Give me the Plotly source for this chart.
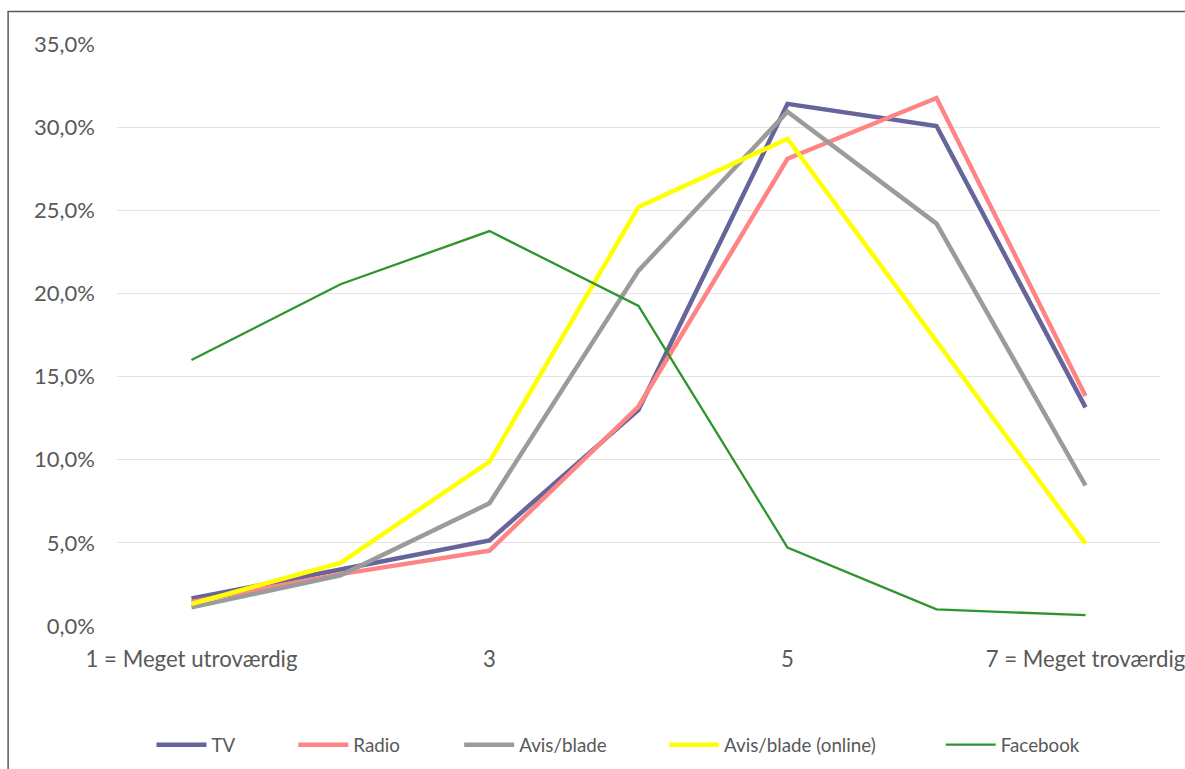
import plotly.graph_objects as go

# ---- data ----
categories = [1, 2, 3, 4, 5, 6, 7]
tick_vals = [1, 3, 5, 7]
tick_text = ["1 = Meget utroværdig", "3", "5", "7 = Meget troværdig"]

tv = [1.65, 3.40, 5.15, 13.0, 31.4, 30.07, 13.15]
radio = [1.45, 3.12, 4.53, 13.2, 28.1, 31.75, 13.83]
avis = [1.12, 3.05, 7.38, 21.37, 30.93, 24.2, 8.45]
avis_online = [1.33, 3.80, 9.88, 25.2, 29.3, 17.15, 4.95]
facebook = [16.0, 20.55, 23.75, 19.25, 4.72, 1.0, 0.65]

series_names = ["TV", "Radio", "Avis/blade", "Avis/blade (online)", "Facebook"]
series_values = [tv, radio, avis, avis_online, facebook]
series_colors = ["#65659B", "#FF8585", "#9B9B9B", "#FFFF00", "#2E952E"]
series_widths = [4.5, 4.5, 4.5, 4.5, 2.3]

# ---- layout geometry (pixels) ----
W, H = 1185, 769
plot_left, plot_right = 116.5, 1160.5
plot_top, plot_bottom = 44, 626
pw = plot_right - plot_left
ph = plot_bottom - plot_top

def px_to_paper_x(px):
    return (px - plot_left) / pw

def px_to_paper_y(py):
    return (plot_bottom - py) / ph

legend_starts = [151, 293, 459, 664, 941]
legend_y_px = 745

fig = go.Figure()
for i, (name, vals, col, lw) in enumerate(zip(series_names, series_values, series_colors, series_widths)):
    lname = "legend" if i == 0 else f"legend{i+1}"
    fig.add_trace(go.Scatter(
        x=categories, y=[v / 100 for v in vals], mode="lines", name=name,
        line=dict(color=col, width=lw), legend=lname,
    ))

font_family = "Lato, 'Open Sans', sans-serif"
legend_font = dict(family=font_family, size=18.8, color="#595959")

layout_legends = {}
for i in range(len(series_names)):
    lname = "legend" if i == 0 else f"legend{i+1}"
    layout_legends[lname] = dict(
        x=px_to_paper_x(legend_starts[i]), y=px_to_paper_y(legend_y_px),
        xanchor="left", yanchor="middle", orientation="h",
        font=legend_font, itemwidth=50, bgcolor="rgba(0,0,0,0)",
    )

fig.update_layout(
    width=W, height=H,
    margin=dict(l=plot_left, r=W - plot_right, t=plot_top, b=H - plot_bottom, pad=0,
                autoexpand=False),
    paper_bgcolor="white", plot_bgcolor="white",
    separators=",.",
    showlegend=True,
    **layout_legends,
    xaxis=dict(
        range=[0.5, 7.5], tickmode="array", tickvals=tick_vals, ticktext=tick_text,
        showgrid=False, zeroline=False, showline=False, ticks="",
        tickfont=dict(family=font_family, size=22.2, color="#595959"),
        ticklabelstandoff=18, automargin=False, ticklabeloverflow="allow",
    ),
    yaxis=dict(
        range=[0, 0.35], tickmode="array",
        tickvals=[0, 0.05, 0.10, 0.15, 0.20, 0.25, 0.30, 0.35],
        tickformat=".1%", showgrid=True, gridcolor="#E3E3E3", gridwidth=1,
        zeroline=False, showline=False, ticks="",
        tickfont=dict(family=font_family, size=22, color="#595959"),
        ticklabelstandoff=21, automargin=False,
    ),
    shapes=[dict(
        type="rect", xref="paper", yref="paper",
        x0=px_to_paper_x(7.5), x1=px_to_paper_x(W + 20),
        y0=px_to_paper_y(H + 20), y1=px_to_paper_y(11.5),
        line=dict(color="#595959", width=1.5), fillcolor="rgba(0,0,0,0)", layer="below",
    )],
)

fig.write_html(
    "out.html",
    config={"displayModeBar": False},
    post_script="document.body.style.margin='0';document.body.style.overflow='hidden';",
)
